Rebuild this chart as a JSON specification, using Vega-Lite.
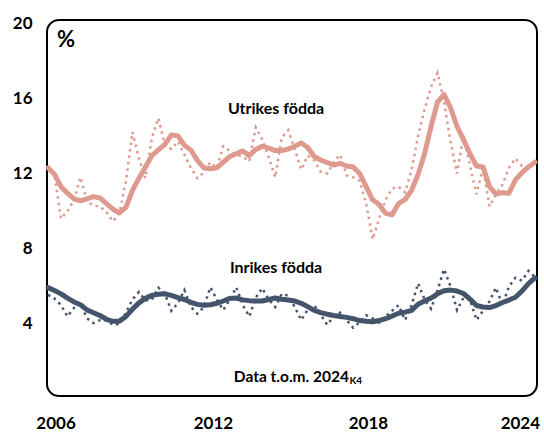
{
  "$schema": "https://vega.github.io/schema/vega-lite/v6.json",
  "autosize": "none",
  "width": 490,
  "height": 376,
  "padding": {"left": 47, "top": 20, "right": 7, "bottom": 36},
  "background": "white",
  "config": {
    "font": "Lato",
    "view": {"stroke": "black", "strokeWidth": 2, "cornerRadius": 12},
    "axis": {"grid": false, "domain": false, "ticks": false, "labelFont": "Lato", "labelFontWeight": "bold", "labelFontSize": 17, "labelColor": "black", "title": null}
  },
  "datasets": {
    "series": [
      {"t": 2006.00, "u_trend": 12.3, "u_raw": 12.4, "i_trend": 5.93, "i_raw": 5.55},
      {"t": 2006.25, "u_trend": 11.95, "u_raw": 11.9, "i_trend": 5.78, "i_raw": 5.35},
      {"t": 2006.50, "u_trend": 11.3, "u_raw": 9.6, "i_trend": 5.6, "i_raw": 5.0},
      {"t": 2006.75, "u_trend": 10.95, "u_raw": 10.0, "i_trend": 5.37, "i_raw": 4.4},
      {"t": 2007.00, "u_trend": 10.65, "u_raw": 10.6, "i_trend": 5.17, "i_raw": 4.85},
      {"t": 2007.25, "u_trend": 10.55, "u_raw": 11.8, "i_trend": 5.02, "i_raw": 5.1},
      {"t": 2007.50, "u_trend": 10.65, "u_raw": 10.5, "i_trend": 4.75, "i_raw": 4.3},
      {"t": 2007.75, "u_trend": 10.77, "u_raw": 10.3, "i_trend": 4.6, "i_raw": 4.05},
      {"t": 2008.00, "u_trend": 10.7, "u_raw": 10.25, "i_trend": 4.45, "i_raw": 4.2},
      {"t": 2008.25, "u_trend": 10.4, "u_raw": 9.95, "i_trend": 4.25, "i_raw": 4.2},
      {"t": 2008.50, "u_trend": 10.1, "u_raw": 9.45, "i_trend": 4.14, "i_raw": 3.95},
      {"t": 2008.75, "u_trend": 9.9, "u_raw": 9.9, "i_trend": 4.15, "i_raw": 4.0},
      {"t": 2009.00, "u_trend": 10.2, "u_raw": 11.6, "i_trend": 4.4, "i_raw": 4.6},
      {"t": 2009.25, "u_trend": 11.1, "u_raw": 14.2, "i_trend": 4.78, "i_raw": 5.3},
      {"t": 2009.50, "u_trend": 11.75, "u_raw": 12.8, "i_trend": 5.12, "i_raw": 5.7},
      {"t": 2009.75, "u_trend": 12.35, "u_raw": 11.75, "i_trend": 5.36, "i_raw": 5.25},
      {"t": 2010.00, "u_trend": 12.95, "u_raw": 13.9, "i_trend": 5.52, "i_raw": 5.3},
      {"t": 2010.25, "u_trend": 13.25, "u_raw": 14.95, "i_trend": 5.58, "i_raw": 5.93},
      {"t": 2010.50, "u_trend": 13.55, "u_raw": 13.5, "i_trend": 5.6, "i_raw": 5.6},
      {"t": 2010.75, "u_trend": 14.05, "u_raw": 13.3, "i_trend": 5.52, "i_raw": 4.7},
      {"t": 2011.00, "u_trend": 14.0, "u_raw": 13.7, "i_trend": 5.4, "i_raw": 5.1},
      {"t": 2011.25, "u_trend": 13.5, "u_raw": 13.0, "i_trend": 5.3, "i_raw": 5.8},
      {"t": 2011.50, "u_trend": 13.25, "u_raw": 12.3, "i_trend": 5.15, "i_raw": 4.9},
      {"t": 2011.75, "u_trend": 12.7, "u_raw": 11.75, "i_trend": 5.04, "i_raw": 4.55},
      {"t": 2012.00, "u_trend": 12.3, "u_raw": 12.05, "i_trend": 4.99, "i_raw": 4.9},
      {"t": 2012.25, "u_trend": 12.25, "u_raw": 12.6, "i_trend": 5.02, "i_raw": 5.95},
      {"t": 2012.50, "u_trend": 12.3, "u_raw": 12.3, "i_trend": 5.1, "i_raw": 5.3},
      {"t": 2012.75, "u_trend": 12.6, "u_raw": 13.45, "i_trend": 5.22, "i_raw": 4.74},
      {"t": 2013.00, "u_trend": 12.9, "u_raw": 13.2, "i_trend": 5.36, "i_raw": 5.3},
      {"t": 2013.25, "u_trend": 13.05, "u_raw": 13.0, "i_trend": 5.38, "i_raw": 5.95},
      {"t": 2013.50, "u_trend": 13.2, "u_raw": 12.9, "i_trend": 5.28, "i_raw": 5.0},
      {"t": 2013.75, "u_trend": 12.95, "u_raw": 12.65, "i_trend": 5.24, "i_raw": 4.4},
      {"t": 2014.00, "u_trend": 13.28, "u_raw": 14.45, "i_trend": 5.22, "i_raw": 5.4},
      {"t": 2014.25, "u_trend": 13.45, "u_raw": 13.8, "i_trend": 5.22, "i_raw": 5.9},
      {"t": 2014.50, "u_trend": 13.35, "u_raw": 12.85, "i_trend": 5.3, "i_raw": 5.3},
      {"t": 2014.75, "u_trend": 13.22, "u_raw": 11.8, "i_trend": 5.38, "i_raw": 4.9},
      {"t": 2015.00, "u_trend": 13.22, "u_raw": 13.9, "i_trend": 5.31, "i_raw": 5.6},
      {"t": 2015.25, "u_trend": 13.3, "u_raw": 14.3, "i_trend": 5.27, "i_raw": 5.5},
      {"t": 2015.50, "u_trend": 13.45, "u_raw": 13.3, "i_trend": 5.22, "i_raw": 4.9},
      {"t": 2015.75, "u_trend": 13.62, "u_raw": 12.2, "i_trend": 5.1, "i_raw": 4.21},
      {"t": 2016.00, "u_trend": 13.38, "u_raw": 12.95, "i_trend": 4.92, "i_raw": 4.75},
      {"t": 2016.25, "u_trend": 12.9, "u_raw": 12.7, "i_trend": 4.72, "i_raw": 5.0},
      {"t": 2016.50, "u_trend": 12.72, "u_raw": 12.1, "i_trend": 4.6, "i_raw": 4.5},
      {"t": 2016.75, "u_trend": 12.58, "u_raw": 12.0, "i_trend": 4.52, "i_raw": 3.95},
      {"t": 2017.00, "u_trend": 12.45, "u_raw": 12.6, "i_trend": 4.45, "i_raw": 4.4},
      {"t": 2017.25, "u_trend": 12.54, "u_raw": 13.0, "i_trend": 4.4, "i_raw": 4.6},
      {"t": 2017.50, "u_trend": 12.4, "u_raw": 11.9, "i_trend": 4.35, "i_raw": 4.2},
      {"t": 2017.75, "u_trend": 12.35, "u_raw": 11.8, "i_trend": 4.28, "i_raw": 3.8},
      {"t": 2018.00, "u_trend": 12.0, "u_raw": 11.6, "i_trend": 4.18, "i_raw": 4.1},
      {"t": 2018.25, "u_trend": 11.3, "u_raw": 10.4, "i_trend": 4.14, "i_raw": 4.46},
      {"t": 2018.50, "u_trend": 10.6, "u_raw": 8.5, "i_trend": 4.12, "i_raw": 4.3},
      {"t": 2018.75, "u_trend": 10.35, "u_raw": 9.6, "i_trend": 4.18, "i_raw": 4.07},
      {"t": 2019.00, "u_trend": 9.88, "u_raw": 10.6, "i_trend": 4.28, "i_raw": 4.4},
      {"t": 2019.25, "u_trend": 9.8, "u_raw": 11.2, "i_trend": 4.42, "i_raw": 4.7},
      {"t": 2019.50, "u_trend": 10.4, "u_raw": 11.3, "i_trend": 4.57, "i_raw": 5.0},
      {"t": 2019.75, "u_trend": 10.62, "u_raw": 11.0, "i_trend": 4.63, "i_raw": 4.21},
      {"t": 2020.00, "u_trend": 11.1, "u_raw": 12.2, "i_trend": 4.72, "i_raw": 5.0},
      {"t": 2020.25, "u_trend": 11.95, "u_raw": 14.0, "i_trend": 5.05, "i_raw": 6.16},
      {"t": 2020.50, "u_trend": 13.05, "u_raw": 15.4, "i_trend": 5.22, "i_raw": 5.3},
      {"t": 2020.75, "u_trend": 14.5, "u_raw": 16.6, "i_trend": 5.38, "i_raw": 4.81},
      {"t": 2021.00, "u_trend": 15.8, "u_raw": 17.35, "i_trend": 5.6, "i_raw": 5.8},
      {"t": 2021.25, "u_trend": 16.2, "u_raw": 15.8, "i_trend": 5.77, "i_raw": 6.91},
      {"t": 2021.50, "u_trend": 15.5, "u_raw": 13.7, "i_trend": 5.8, "i_raw": 6.0},
      {"t": 2021.75, "u_trend": 14.5, "u_raw": 12.0, "i_trend": 5.75, "i_raw": 4.74},
      {"t": 2022.00, "u_trend": 13.8, "u_raw": 14.0, "i_trend": 5.62, "i_raw": 5.4},
      {"t": 2022.25, "u_trend": 13.05, "u_raw": 12.4, "i_trend": 5.32, "i_raw": 5.3},
      {"t": 2022.50, "u_trend": 12.4, "u_raw": 10.9, "i_trend": 4.98, "i_raw": 4.21},
      {"t": 2022.75, "u_trend": 12.35, "u_raw": 12.3, "i_trend": 4.9, "i_raw": 4.7},
      {"t": 2023.00, "u_trend": 11.3, "u_raw": 10.25, "i_trend": 4.87, "i_raw": 5.2},
      {"t": 2023.25, "u_trend": 10.9, "u_raw": 10.9, "i_trend": 4.98, "i_raw": 5.93},
      {"t": 2023.50, "u_trend": 10.98, "u_raw": 11.4, "i_trend": 5.14, "i_raw": 4.99},
      {"t": 2023.75, "u_trend": 10.95, "u_raw": 12.3, "i_trend": 5.27, "i_raw": 6.0},
      {"t": 2024.00, "u_trend": 11.66, "u_raw": 12.8, "i_trend": 5.42, "i_raw": 6.46},
      {"t": 2024.25, "u_trend": 12.05, "u_raw": 12.4, "i_trend": 5.75, "i_raw": 6.3},
      {"t": 2024.50, "u_trend": 12.35, "u_raw": 12.3, "i_trend": 6.15, "i_raw": 6.82},
      {"t": 2024.75, "u_trend": 12.6, "u_raw": 12.6, "i_trend": 6.45, "i_raw": 6.5}
    ],
    "labels": [
      {"t": 2006.69, "v": 19.1, "text": "%", "size": 22, "pos": "c"},
      {"t": 2014.78, "v": 15.43, "text": "Utrikes födda", "size": 16, "pos": "c"},
      {"t": 2014.78, "v": 6.98, "text": "Inrikes födda", "size": 16, "pos": "c"},
      {"t": 2017.59, "v": 1.18, "text": "Data t.o.m. 2024", "size": 15.5, "pos": "r"},
      {"t": 2017.61, "v": 0.95, "text": "K4", "size": 10, "pos": "l"}
    ]
  },
  "data": {"name": "series"},
  "encoding": {
    "x": {
      "field": "t", "type": "quantitative",
      "scale": {"domain": [2005.96, 2024.83], "nice": false, "zero": false},
      "axis": {"values": [2006.29, 2012.35, 2018.32, 2024.17], "labelExpr": "floor(datum.value)", "labelPadding": 19, "labelFlush": false, "labelOverlap": false}
    }
  },
  "layer": [
    {
      "mark": {"type": "line", "color": "#DE9A8E", "strokeWidth": 2.5, "strokeDash": [2.5, 4]},
      "encoding": {"y": {"field": "u_raw", "type": "quantitative", "scale": {"domain": [0.17, 20.16], "nice": false, "zero": false}, "axis": {"values": [4, 8, 12, 16, 20], "labelPadding": 15}}}
    },
    {
      "mark": {"type": "line", "color": "#44546A", "strokeWidth": 2.5, "strokeDash": [2.5, 4]},
      "encoding": {"y": {"field": "i_raw", "type": "quantitative"}}
    },
    {
      "mark": {"type": "line", "color": "#DE9A8E", "strokeWidth": 5, "strokeJoin": "round", "strokeCap": "round"},
      "encoding": {"y": {"field": "u_trend", "type": "quantitative"}}
    },
    {
      "mark": {"type": "line", "color": "#44546A", "strokeWidth": 5, "strokeJoin": "round", "strokeCap": "round"},
      "encoding": {"y": {"field": "i_trend", "type": "quantitative"}}
    },
    {
      "data": {"name": "labels"},
      "transform": [{"filter": "datum.pos == 'c'"}],
      "mark": {"type": "text", "font": "Lato", "fontWeight": "bold", "color": "black", "baseline": "middle", "align": "center"},
      "encoding": {
        "y": {"field": "v", "type": "quantitative"},
        "text": {"field": "text"},
        "size": {"field": "size", "type": "quantitative", "scale": null}
      }
    },
    {
      "data": {"name": "labels"},
      "transform": [{"filter": "datum.pos == 'r'"}],
      "mark": {"type": "text", "font": "Lato", "fontWeight": "bold", "color": "black", "baseline": "middle", "align": "right"},
      "encoding": {
        "y": {"field": "v", "type": "quantitative"},
        "text": {"field": "text"},
        "size": {"field": "size", "type": "quantitative", "scale": null}
      }
    },
    {
      "data": {"name": "labels"},
      "transform": [{"filter": "datum.pos == 'l'"}],
      "mark": {"type": "text", "font": "Lato", "fontWeight": "bold", "color": "black", "baseline": "middle", "align": "left"},
      "encoding": {
        "y": {"field": "v", "type": "quantitative"},
        "text": {"field": "text"},
        "size": {"field": "size", "type": "quantitative", "scale": null}
      }
    }
  ]
}
